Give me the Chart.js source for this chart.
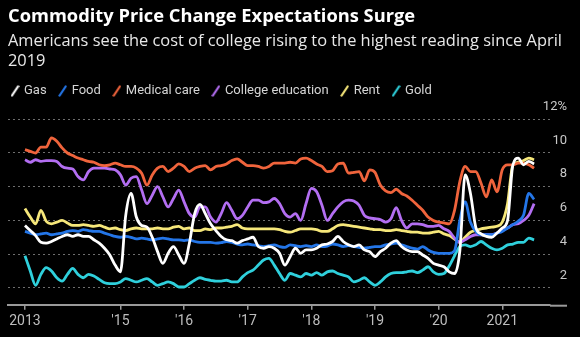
<!DOCTYPE html>
<html>
<head>
<meta charset="utf-8">
<script src="https://cdn.jsdelivr.net/npm/chart.js@4.4.1/dist/chart.umd.min.js"></script>
<style>
  html, body { margin: 0; padding: 0; background: #000; }
  #wrap { width: 580px; height: 337px; }
</style>
</head>
<body>
<div id="wrap"><canvas id="chart" width="580" height="337"></canvas></div>
<script>
// x tick positions (month index, 0 = Jul 2013) and their labels
const tickIndex = [0, 18, 30, 42, 54, 66, 78, 90];
const tickLabels = ['2013', "'15", "'16", "'17", "'18", "'19", "'20", '2021'];
const yTicks = [2, 4, 6, 8, 10, 12];

// monthly categories Jul 2013 .. Jul 2021
const monthNames = ['Jan','Feb','Mar','Apr','May','Jun','Jul','Aug','Sep','Oct','Nov','Dec'];
const months = [];
for (let y = 2013, m = 6; months.length < 97; m++) {
  if (m > 11) { m = 0; y++; }
  months.push(monthNames[m] + ' ' + y);
}

// median expected price change, %
const gas = [
  5.7, 5.4, 5.1, 4.7, 4.65, 4.75, 4.9, 5.05, 5.15, 5.05,
  5.15, 5.05, 5.05, 4.85, 4.65, 4.35, 3.95, 3.35, 2.95, 6.3,
  7.6, 6.2, 5.7, 5.6, 5.0, 4.15, 3.45, 4.05, 4.45, 3.95,
  3.45, 4.65, 6.4, 6.95, 6.4, 5.8, 5.4, 5.05, 4.85, 4.8,
  4.65, 4.8, 4.9, 5.0, 4.45, 4.35, 4.45, 4.35, 4.05, 3.35,
  3.85, 4.35, 4.05, 4.25, 4.25, 4.35, 4.55, 4.6, 4.75, 5.05,
  4.75, 4.55, 4.45, 4.55, 4.25, 4.15, 3.85, 4.15, 4.35, 4.65,
  4.8, 4.45, 4.25, 4.15, 4.15, 3.95, 3.75, 3.45, 3.35, 3.25,
  2.95, 2.85, 4.2, 8.7, 7.6, 5.6, 5.2, 5.05, 5.0, 5.25,
  5.55, 6.0, 9.3, 9.7, 9.3, 9.5, 9.35
];
const food = [
  5.35, 5.25, 5.15, 5.2, 5.25, 5.15, 5.2, 5.25, 5.35, 5.4,
  5.35, 5.45, 5.4, 5.35, 5.35, 5.25, 5.15, 5.05, 5.0, 5.05,
  5.0, 4.9, 4.95, 4.9, 4.85, 4.9, 4.95, 4.9, 4.85, 4.85,
  4.8, 4.85, 4.75, 4.7, 4.7, 4.7, 4.65, 4.68, 4.75, 4.7,
  4.6, 4.55, 4.6, 4.55, 4.5, 4.45, 4.5, 4.55, 4.45, 4.4,
  4.55, 4.5, 4.45, 4.5, 4.45, 4.55, 4.45, 4.48, 4.6, 4.55,
  4.45, 4.5, 4.45, 4.4, 4.35, 4.4, 4.45, 4.45, 4.55, 4.6,
  4.65, 4.55, 4.45, 4.35, 4.3, 4.45, 4.25, 4.1, 4.05, 4.05,
  4.05, 4.2, 6.0, 7.1, 5.9, 5.35, 5.15, 5.15, 5.15, 5.25,
  5.35, 5.55, 5.75, 5.95, 6.3, 7.6, 7.25
];
const medical = [
  10.2, 10.1, 10.0, 10.35, 10.35, 10.9, 10.7, 10.3, 10.0, 9.85,
  9.7, 9.6, 9.5, 9.45, 9.3, 9.25, 9.3, 9.4, 9.3, 9.2,
  9.2, 9.1, 8.8, 8.1, 8.7, 9.1, 9.2, 8.9, 9.1, 9.35,
  9.2, 8.9, 9.1, 9.2, 9.25, 9.0, 9.2, 9.25, 9.35, 9.55,
  9.65, 9.45, 9.25, 9.25, 9.2, 9.1, 9.2, 9.4, 9.4, 9.4,
  9.45, 9.4, 9.65, 9.7, 9.55, 9.35, 9.2, 8.9, 8.95, 9.35,
  9.4, 8.8, 8.85, 8.9, 8.35, 9.0, 8.85, 8.1, 7.75, 7.65,
  7.85, 7.6, 7.45, 7.2, 6.9, 6.6, 6.2, 6.0, 5.9, 5.85,
  5.8, 6.6, 8.3, 9.2, 8.9, 8.9, 8.2, 7.4, 8.4, 7.7,
  9.0, 9.3, 9.3, 9.4, 9.4, 9.3, 9.1
];
const college = [
  9.6, 9.45, 9.6, 9.5, 9.55, 9.55, 9.5, 9.2, 9.1, 9.05,
  8.6, 8.4, 8.9, 9.1, 9.1, 9.1, 9.05, 9.0, 8.7, 8.1,
  8.5, 8.6, 7.8, 7.0, 7.5, 8.0, 7.4, 6.8, 7.3, 7.8,
  7.1, 6.4, 6.2, 6.8, 6.8, 6.2, 5.9, 6.4, 7.05, 6.6,
  6.1, 6.3, 6.8, 7.2, 7.2, 7.05, 7.1, 7.3, 7.0, 6.4,
  6.2, 6.4, 6.0, 7.0, 7.9, 7.7, 6.9, 6.0, 6.4, 6.8,
  7.1, 7.2, 7.15, 6.9, 6.3, 6.15, 6.1, 6.05, 5.9, 6.1,
  6.75, 6.0, 5.55, 5.8, 5.8, 5.75, 5.65, 5.65, 5.7, 5.5,
  5.35, 4.95, 4.7, 4.85, 5.05, 5.15, 5.15, 5.15, 5.15, 5.25,
  5.4, 5.55, 5.75, 5.8, 6.0, 6.3, 7.0
];
const rent = [
  6.7, 6.2, 5.8, 6.6, 5.95, 5.8, 5.9, 6.0, 5.85, 5.7,
  5.7, 5.75, 5.7, 5.65, 5.7, 5.6, 5.5, 5.55, 5.45, 5.4,
  5.5, 5.55, 5.5, 5.5, 5.5, 5.55, 5.5, 5.5, 5.6, 5.65,
  5.5, 5.55, 5.4, 5.4, 5.5, 5.45, 5.55, 5.55, 5.6, 5.65,
  5.75, 5.55, 5.5, 5.5, 5.5, 5.5, 5.5, 5.5, 5.45, 5.35,
  5.3, 5.4, 5.5, 5.5, 5.5, 5.45, 5.35, 5.35, 5.5, 5.7,
  5.75, 5.7, 5.65, 5.6, 5.55, 5.5, 5.45, 5.45, 5.4, 5.4,
  5.45, 5.4, 5.35, 5.3, 5.3, 5.25, 5.25, 5.3, 5.35, 5.2,
  5.1, 4.9, 4.7, 5.0, 5.3, 5.4, 5.5, 5.55, 5.6, 5.65,
  5.9, 7.0, 9.3, 9.45, 9.55, 9.7, 9.6
];
const gold = [
  3.9, 3.0, 2.15, 2.8, 3.2, 3.0, 2.6, 2.4, 2.8, 3.15,
  2.8, 2.6, 2.8, 2.7, 2.5, 2.3, 2.25, 2.25, 2.35, 2.55,
  2.45, 2.35, 2.45, 2.55, 2.35, 2.15, 2.25, 2.35, 2.25, 2.05,
  2.05, 2.25, 2.45, 2.6, 2.5, 2.45, 2.4, 2.4, 2.45, 2.35,
  2.35, 2.65, 2.9, 3.05, 3.35, 3.65, 3.75, 3.35, 2.85, 2.45,
  2.85, 2.75, 2.65, 2.85, 2.75, 2.9, 2.75, 2.95, 3.0, 2.85,
  2.75, 2.65, 2.35, 2.45, 2.6, 2.35, 2.15, 2.35, 2.65, 2.85,
  2.9, 2.9, 2.95, 3.0, 2.9, 3.05, 3.25, 2.95, 2.8, 2.85,
  3.3, 3.9, 4.45, 4.55, 4.45, 4.55, 4.75, 4.55, 4.35, 4.25,
  4.35, 4.55, 4.6, 4.7, 4.7, 4.95, 4.85
];

const seriesNames = ['Gas', 'Food', 'Medical care', 'College education', 'Rent', 'Gold'];
const seriesData = [gas, food, medical, college, rent, gold];
const seriesColors = ['#ffffff', '#2476e8', '#f0643c', '#b36ef2', '#f6e77a', '#2fd0dc'];

// legend marker: a short slash in the series colour
function slash(color) {
  const c = document.createElement('canvas');
  c.width = 9; c.height = 12;
  const g = c.getContext('2d');
  g.strokeStyle = color;
  g.lineWidth = 2.2;
  g.lineCap = 'round';
  g.beginPath();
  g.moveTo(1.5, 10.5);
  g.lineTo(7.5, 1.5);
  g.stroke();
  return c;
}

const datasets = seriesNames.map((name, k) => ({
  label: name,
  data: seriesData[k].map((v, i) => ({ x: i, y: v })),
  borderColor: seriesColors[k],
  backgroundColor: seriesColors[k],
  borderWidth: 2.8,
  pointRadius: 0,
  pointHoverRadius: 0,
  pointStyle: slash(seriesColors[k]),
  cubicInterpolationMode: 'monotone',
  fill: false
}));

// pull the legend row a bit to the left, like the original
const legendShift = {
  id: 'legendShift',
  afterLayout(chart) {
    chart.legend.left -= 9;
    chart.legend.right -= 9;
  }
};

// baseline runs on under the value labels
const axisRule = {
  id: 'axisRule',
  afterDraw(chart) {
    const { ctx, chartArea, scales } = chart;
    ctx.save();
    ctx.strokeStyle = '#9a9a9a';
    ctx.lineWidth = 2;
    ctx.beginPath();
    ctx.moveTo(chartArea.right, chartArea.bottom + 1);
    ctx.lineTo(scales.y.right, chartArea.bottom + 1);
    ctx.stroke();
    ctx.restore();
  }
};

const font = 'Roboto';
const headFont = 'Open Sans';

new Chart(document.getElementById('chart'), {
  type: 'line',
  data: { labels: months, datasets: datasets },
  plugins: [legendShift, axisRule],
  options: {
    responsive: false,
    animation: false,
    layout: { padding: { left: 8, right: 13, top: 0, bottom: 4.5 } },
    plugins: {
      title: {
        display: true,
        text: 'Commodity Price Change Expectations Surge',
        align: 'start',
        color: '#ffffff',
        font: { family: headFont, size: 18.3, weight: 'bold', lineHeight: 1.2 },
        padding: { top: 6, bottom: 2 }
      },
      subtitle: {
        display: true,
        text: ['Americans see the cost of college rising to the highest reading since April', '2019'],
        align: 'start',
        color: '#e8e8e8',
        font: { family: headFont, size: 16.4, lineHeight: 1.22 },
        padding: { top: 1, bottom: 0 }
      },
      legend: {
        position: 'top',
        align: 'start',
        labels: {
          usePointStyle: true,
          pointStyleWidth: 5,
          padding: 13.5,
          color: '#d4d4d4',
          font: { family: font, size: 13 }
        }
      },
      tooltip: { enabled: false }
    },
    scales: {
      x: {
        type: 'linear',
        min: -3.2,
        max: 99,
        afterBuildTicks: s => { s.ticks = tickIndex.map(v => ({ value: v })); },
        ticks: {
          color: '#bdbdbd',
          font: { family: font, size: 14 },
          padding: 3,
          maxRotation: 0,
          autoSkip: false,
          callback: v => tickLabels[tickIndex.indexOf(v)]
        },
        grid: { display: true, drawOnChartArea: false, drawTicks: true, tickLength: 5, color: '#9a9a9a', lineWidth: 1.5 },
        border: { display: true, color: '#9a9a9a', width: 2 }
      },
      y: {
        position: 'right',
        min: 1,
        max: 12.7,
        afterBuildTicks: s => { s.ticks = yTicks.map(v => ({ value: v })); },
        afterFit: s => { s.width = 17; },
        ticks: {
          color: '#c8c8c8',
          font: { family: font, size: 13 },
          mirror: true,
          crossAlign: 'near',
          padding: 17,
          labelOffset: -12.5,
          callback: v => (v === 12 ? '12%' : String(v))
        },
        grid: { color: '#6e6e6e', lineWidth: 1, drawTicks: false },
        border: { display: false, dash: [2, 3] }
      }
    }
  }
});
</script>
</body>
</html>
